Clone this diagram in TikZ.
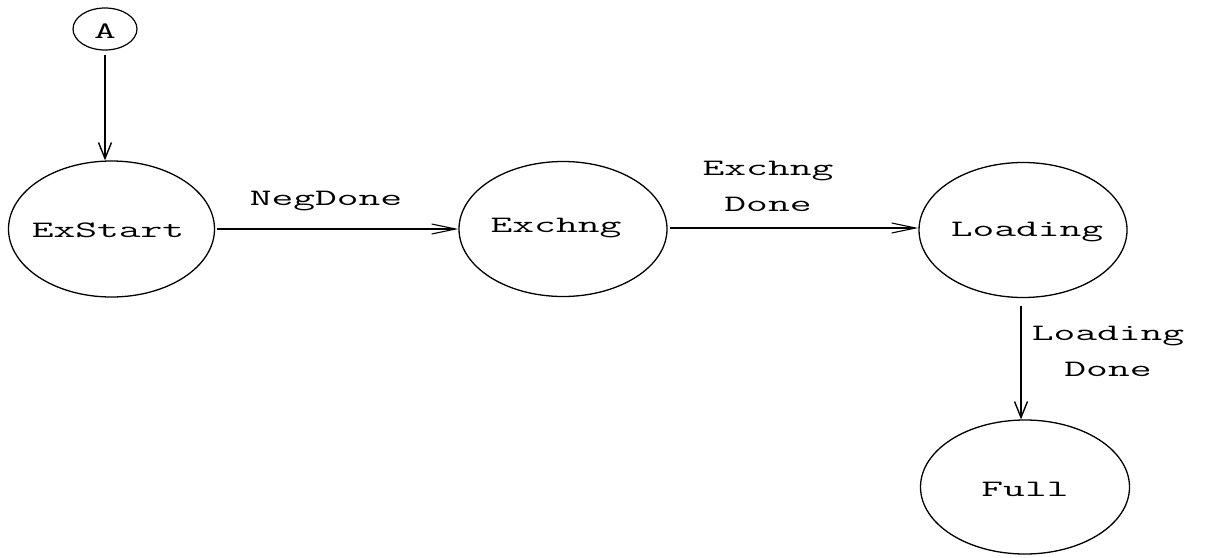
\documentclass[tikz,border=0pt]{standalone}
\usepackage{fontspec}
\setmainfont{Latin Modern Mono}[FakeStretch=1.8]
\usetikzlibrary{shapes.geometric,arrows.meta}
\tikzset{
  state/.style={draw, ellipse, line width=1.3pt, inner sep=0pt, minimum width=208pt, minimum height=135pt},
  txt/.style={font=\fontsize{23.5}{36}\selectfont, inner sep=0pt},
  conn/.style={line width=1.2pt, -{Straight Barb[length=24pt,width=10pt,line width=1.1pt]}},
  vconn/.style={line width=1.4pt, -{Straight Barb[length=16pt,width=13pt,line width=1.4pt]}},
  lbl/.style={font=\fontsize{23.5}{36}\selectfont, align=center, inner sep=0pt},
}
\begin{document}
\begin{tikzpicture}[x=1pt,y=-1pt]
\useasboundingbox (0,0) rectangle (1214,557);
\node[draw, ellipse, line width=1.2pt, inner sep=0pt, minimum width=64pt, minimum height=42pt] (A) at (105,29) {};
\node[txt] (tA) at (105,31) {A};
\node[state, minimum width=206pt, minimum height=136pt] (ExStart) at (111.5,229) {};
\node[txt] (tExStart) at (108,230) {ExStart};
\node[state] (Exchng) at (563,229) {};
\node[txt] (tExchng) at (556,228) {Exchng};
\node[state] (Loading) at (1023,230) {};
\node[txt] (tLoading) at (1027,232) {Loading};
\node[state, minimum width=209pt, minimum height=134pt] (Full) at (1025,487) {};
\node[txt] (tFull) at (1025,489) {Full};
\node[lbl] (l1) at (326,201) {NegDone};
\node[lbl] (l2) at (768,186) {Exchng\\Done};
\node[lbl] (l3) at (1108,351) {Loading\\Done};
\draw[vconn, shorten <=4pt] (A.south) -- (ExStart.north -| A.south);
\draw[conn, shorten <=2pt] (ExStart.east) -- (Exchng.west);
\draw[conn, shorten <=2pt] ([yshift=1pt]Exchng.east) -- ([yshift=2pt]Loading.west);
\draw[vconn, shorten <=8pt] ([xshift=-2pt]Loading.south) -- ([xshift=-4pt]Full.north);
\end{tikzpicture}
\end{document}
